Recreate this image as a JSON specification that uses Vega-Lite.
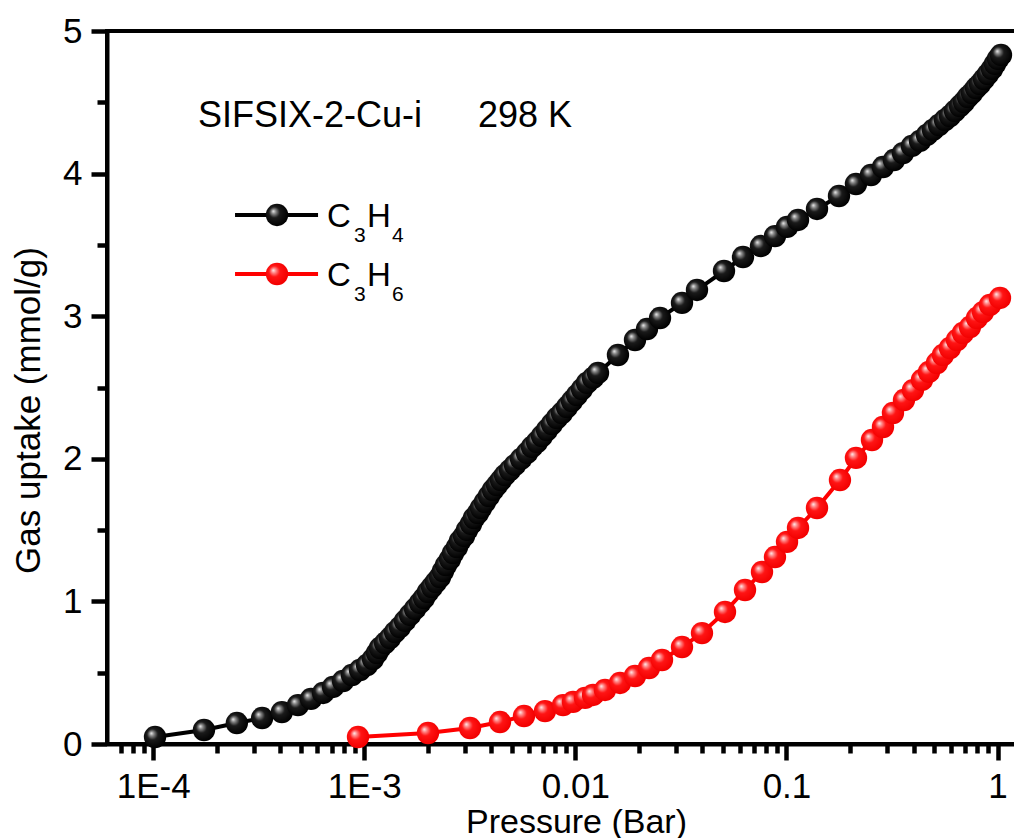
{
  "$schema": "https://vega.github.io/schema/vega-lite/v6.json",
  "width": 910,
  "height": 713,
  "autosize": {"type": "none"},
  "padding": {"left": 107, "top": 31, "right": 0, "bottom": 94},
  "background": "white",
  "config": {
    "view": {"stroke": "black", "strokeWidth": 4},
    "font": "Liberation Sans"
  },
  "datasets": {
    "iso": [
      {"P": 1.02e-4, "uptake": 0.049, "gas": "C₃H₄"},
      {"P": 1.74e-4, "uptake": 0.098, "gas": "C₃H₄"},
      {"P": 2.49e-4, "uptake": 0.147, "gas": "C₃H₄"},
      {"P": 3.28e-4, "uptake": 0.182, "gas": "C₃H₄"},
      {"P": 4.07e-4, "uptake": 0.224, "gas": "C₃H₄"},
      {"P": 4.85e-4, "uptake": 0.273, "gas": "C₃H₄"},
      {"P": 5.59e-4, "uptake": 0.316, "gas": "C₃H₄"},
      {"P": 6.38e-4, "uptake": 0.358, "gas": "C₃H₄"},
      {"P": 7.11e-4, "uptake": 0.400, "gas": "C₃H₄"},
      {"P": 7.93e-4, "uptake": 0.442, "gas": "C₃H₄"},
      {"P": 8.74e-4, "uptake": 0.484, "gas": "C₃H₄"},
      {"P": 9.54e-4, "uptake": 0.519, "gas": "C₃H₄"},
      {"P": 1.030e-3, "uptake": 0.554, "gas": "C₃H₄"},
      {"P": 1.099e-3, "uptake": 0.596, "gas": "C₃H₄"},
      {"P": 1.149e-3, "uptake": 0.638, "gas": "C₃H₄"},
      {"P": 1.187e-3, "uptake": 0.673, "gas": "C₃H₄"},
      {"P": 1.254e-3, "uptake": 0.708, "gas": "C₃H₄"},
      {"P": 1.324e-3, "uptake": 0.743, "gas": "C₃H₄"},
      {"P": 1.398e-3, "uptake": 0.785, "gas": "C₃H₄"},
      {"P": 1.476e-3, "uptake": 0.820, "gas": "C₃H₄"},
      {"P": 1.559e-3, "uptake": 0.863, "gas": "C₃H₄"},
      {"P": 1.646e-3, "uptake": 0.905, "gas": "C₃H₄"},
      {"P": 1.739e-3, "uptake": 0.947, "gas": "C₃H₄"},
      {"P": 1.836e-3, "uptake": 0.989, "gas": "C₃H₄"},
      {"P": 1.918e-3, "uptake": 1.024, "gas": "C₃H₄"},
      {"P": 2.003e-3, "uptake": 1.066, "gas": "C₃H₄"},
      {"P": 2.093e-3, "uptake": 1.101, "gas": "C₃H₄"},
      {"P": 2.186e-3, "uptake": 1.136, "gas": "C₃H₄"},
      {"P": 2.284e-3, "uptake": 1.171, "gas": "C₃H₄"},
      {"P": 2.360e-3, "uptake": 1.213, "gas": "C₃H₄"},
      {"P": 2.438e-3, "uptake": 1.255, "gas": "C₃H₄"},
      {"P": 2.547e-3, "uptake": 1.297, "gas": "C₃H₄"},
      {"P": 2.632e-3, "uptake": 1.339, "gas": "C₃H₄"},
      {"P": 2.749e-3, "uptake": 1.381, "gas": "C₃H₄"},
      {"P": 2.840e-3, "uptake": 1.424, "gas": "C₃H₄"},
      {"P": 2.967e-3, "uptake": 1.459, "gas": "C₃H₄"},
      {"P": 3.066e-3, "uptake": 1.501, "gas": "C₃H₄"},
      {"P": 3.202e-3, "uptake": 1.543, "gas": "C₃H₄"},
      {"P": 3.308e-3, "uptake": 1.585, "gas": "C₃H₄"},
      {"P": 3.456e-3, "uptake": 1.620, "gas": "C₃H₄"},
      {"P": 3.571e-3, "uptake": 1.655, "gas": "C₃H₄"},
      {"P": 3.730e-3, "uptake": 1.697, "gas": "C₃H₄"},
      {"P": 3.896e-3, "uptake": 1.739, "gas": "C₃H₄"},
      {"P": 4.070e-3, "uptake": 1.781, "gas": "C₃H₄"},
      {"P": 4.252e-3, "uptake": 1.816, "gas": "C₃H₄"},
      {"P": 4.441e-3, "uptake": 1.851, "gas": "C₃H₄"},
      {"P": 4.639e-3, "uptake": 1.886, "gas": "C₃H₄"},
      {"P": 4.899e-3, "uptake": 1.921, "gas": "C₃H₄"},
      {"P": 5.174e-3, "uptake": 1.957, "gas": "C₃H₄"},
      {"P": 5.525e-3, "uptake": 1.999, "gas": "C₃H₄"},
      {"P": 5.898e-3, "uptake": 2.041, "gas": "C₃H₄"},
      {"P": 6.229e-3, "uptake": 2.083, "gas": "C₃H₄"},
      {"P": 6.578e-3, "uptake": 2.118, "gas": "C₃H₄"},
      {"P": 6.947e-3, "uptake": 2.160, "gas": "C₃H₄"},
      {"P": 7.337e-3, "uptake": 2.202, "gas": "C₃H₄"},
      {"P": 7.747e-3, "uptake": 2.244, "gas": "C₃H₄"},
      {"P": 8.181e-3, "uptake": 2.286, "gas": "C₃H₄"},
      {"P": 8.640e-3, "uptake": 2.321, "gas": "C₃H₄"},
      {"P": 9.124e-3, "uptake": 2.363, "gas": "C₃H₄"},
      {"P": 9.636e-3, "uptake": 2.405, "gas": "C₃H₄"},
      {"P": 1.0176e-2, "uptake": 2.447, "gas": "C₃H₄"},
      {"P": 1.0747e-2, "uptake": 2.489, "gas": "C₃H₄"},
      {"P": 1.135e-2, "uptake": 2.532, "gas": "C₃H₄"},
      {"P": 1.2115e-2, "uptake": 2.567, "gas": "C₃H₄"},
      {"P": 1.2796e-2, "uptake": 2.602, "gas": "C₃H₄"},
      {"P": 0.01591, "uptake": 2.728, "gas": "C₃H₄"},
      {"P": 0.01916, "uptake": 2.833, "gas": "C₃H₄"},
      {"P": 0.02184, "uptake": 2.910, "gas": "C₃H₄"},
      {"P": 0.02517, "uptake": 2.987, "gas": "C₃H₄"},
      {"P": 0.03199, "uptake": 3.093, "gas": "C₃H₄"},
      {"P": 0.03767, "uptake": 3.184, "gas": "C₃H₄"},
      {"P": 0.05057, "uptake": 3.317, "gas": "C₃H₄"},
      {"P": 0.06222, "uptake": 3.415, "gas": "C₃H₄"},
      {"P": 0.07572, "uptake": 3.492, "gas": "C₃H₄"},
      {"P": 0.0882, "uptake": 3.562, "gas": "C₃H₄"},
      {"P": 0.1006, "uptake": 3.626, "gas": "C₃H₄"},
      {"P": 0.1134, "uptake": 3.675, "gas": "C₃H₄"},
      {"P": 0.1395, "uptake": 3.752, "gas": "C₃H₄"},
      {"P": 0.1773, "uptake": 3.843, "gas": "C₃H₄"},
      {"P": 0.2134, "uptake": 3.927, "gas": "C₃H₄"},
      {"P": 0.2514, "uptake": 3.990, "gas": "C₃H₄"},
      {"P": 0.2865, "uptake": 4.046, "gas": "C₃H₄"},
      {"P": 0.3230, "uptake": 4.095, "gas": "C₃H₄"},
      {"P": 0.3564, "uptake": 4.144, "gas": "C₃H₄"},
      {"P": 0.3931, "uptake": 4.194, "gas": "C₃H₄"},
      {"P": 0.4290, "uptake": 4.229, "gas": "C₃H₄"},
      {"P": 0.4630, "uptake": 4.271, "gas": "C₃H₄"},
      {"P": 0.4943, "uptake": 4.306, "gas": "C₃H₄"},
      {"P": 0.5277, "uptake": 4.341, "gas": "C₃H₄"},
      {"P": 0.5632, "uptake": 4.376, "gas": "C₃H₄"},
      {"P": 0.5951, "uptake": 4.404, "gas": "C₃H₄"},
      {"P": 0.6284, "uptake": 4.439, "gas": "C₃H₄"},
      {"P": 0.6637, "uptake": 4.474, "gas": "C₃H₄"},
      {"P": 0.6932, "uptake": 4.502, "gas": "C₃H₄"},
      {"P": 0.7241, "uptake": 4.537, "gas": "C₃H₄"},
      {"P": 0.7563, "uptake": 4.565, "gas": "C₃H₄"},
      {"P": 0.7900, "uptake": 4.600, "gas": "C₃H₄"},
      {"P": 0.8252, "uptake": 4.628, "gas": "C₃H₄"},
      {"P": 0.8621, "uptake": 4.663, "gas": "C₃H₄"},
      {"P": 0.9006, "uptake": 4.698, "gas": "C₃H₄"},
      {"P": 0.9408, "uptake": 4.734, "gas": "C₃H₄"},
      {"P": 0.9721, "uptake": 4.769, "gas": "C₃H₄"},
      {"P": 1.0044, "uptake": 4.804, "gas": "C₃H₄"},
      {"P": 1.0378, "uptake": 4.832, "gas": "C₃H₄"},
      {"P": 9.337e-4, "uptake": 0.049, "gas": "C₃H₆"},
      {"P": 2.003e-3, "uptake": 0.077, "gas": "C₃H₆"},
      {"P": 3.168e-3, "uptake": 0.112, "gas": "C₃H₆"},
      {"P": 4.393e-3, "uptake": 0.154, "gas": "C₃H₆"},
      {"P": 5.708e-3, "uptake": 0.196, "gas": "C₃H₆"},
      {"P": 7.178e-3, "uptake": 0.231, "gas": "C₃H₆"},
      {"P": 8.736e-3, "uptake": 0.273, "gas": "C₃H₆"},
      {"P": 9.741e-3, "uptake": 0.295, "gas": "C₃H₆"},
      {"P": 0.01111, "uptake": 0.323, "gas": "C₃H₆"},
      {"P": 0.01212, "uptake": 0.344, "gas": "C₃H₆"},
      {"P": 0.01381, "uptake": 0.379, "gas": "C₃H₆"},
      {"P": 0.01627, "uptake": 0.428, "gas": "C₃H₆"},
      {"P": 0.01916, "uptake": 0.477, "gas": "C₃H₆"},
      {"P": 0.02232, "uptake": 0.533, "gas": "C₃H₆"},
      {"P": 0.02572, "uptake": 0.589, "gas": "C₃H₆"},
      {"P": 0.03199, "uptake": 0.680, "gas": "C₃H₆"},
      {"P": 0.03978, "uptake": 0.778, "gas": "C₃H₆"},
      {"P": 0.05113, "uptake": 0.926, "gas": "C₃H₆"},
      {"P": 0.06360, "uptake": 1.080, "gas": "C₃H₆"},
      {"P": 0.07655, "uptake": 1.206, "gas": "C₃H₆"},
      {"P": 0.08820, "uptake": 1.311, "gas": "C₃H₆"},
      {"P": 0.1006, "uptake": 1.417, "gas": "C₃H₆"},
      {"P": 0.1134, "uptake": 1.515, "gas": "C₃H₆"},
      {"P": 0.1395, "uptake": 1.655, "gas": "C₃H₆"},
      {"P": 0.1792, "uptake": 1.851, "gas": "C₃H₆"},
      {"P": 0.2134, "uptake": 2.006, "gas": "C₃H₆"},
      {"P": 0.2541, "uptake": 2.132, "gas": "C₃H₆"},
      {"P": 0.2865, "uptake": 2.223, "gas": "C₃H₆"},
      {"P": 0.3195, "uptake": 2.321, "gas": "C₃H₆"},
      {"P": 0.3603, "uptake": 2.412, "gas": "C₃H₆"},
      {"P": 0.3974, "uptake": 2.482, "gas": "C₃H₆"},
      {"P": 0.4385, "uptake": 2.553, "gas": "C₃H₆"},
      {"P": 0.4733, "uptake": 2.609, "gas": "C₃H₆"},
      {"P": 0.5164, "uptake": 2.672, "gas": "C₃H₆"},
      {"P": 0.5512, "uptake": 2.728, "gas": "C₃H₆"},
      {"P": 0.5951, "uptake": 2.777, "gas": "C₃H₆"},
      {"P": 0.6423, "uptake": 2.833, "gas": "C₃H₆"},
      {"P": 0.6857, "uptake": 2.882, "gas": "C₃H₆"},
      {"P": 0.7400, "uptake": 2.924, "gas": "C₃H₆"},
      {"P": 0.7989, "uptake": 2.987, "gas": "C₃H₆"},
      {"P": 0.8527, "uptake": 3.029, "gas": "C₃H₆"},
      {"P": 0.9204, "uptake": 3.079, "gas": "C₃H₆"},
      {"P": 1.0266, "uptake": 3.128, "gas": "C₃H₆"}
    ]
  },
  "layer": [
    {
      "data": {"name": "iso"},
      "mark": {"type": "line", "strokeWidth": 4, "clip": true},
      "encoding": {
        "x": {
          "field": "P",
          "type": "quantitative",
          "scale": {"type": "log", "domain": [6.04e-5, 1.236], "nice": false},
          "axis": {
            "values": [6e-5, 7e-5, 8e-5, 9e-5, 1e-4, 2e-4, 3e-4, 4e-4, 5e-4, 6e-4, 7e-4, 8e-4, 9e-4, 1e-3, 2e-3, 3e-3, 4e-3, 5e-3, 6e-3, 7e-3, 8e-3, 9e-3, 0.01, 0.02, 0.03, 0.04, 0.05, 0.06, 0.07, 0.08, 0.09, 0.1, 0.2, 0.3, 0.4, 0.5, 0.6, 0.7, 0.8, 0.9, 1],
            "labelExpr": "abs(log(datum.value)/LN10 - round(log(datum.value)/LN10)) < 0.001 ? (datum.value < 0.005 ? replace(format(datum.value, '.0e'), 'e-', 'E-') : format(datum.value, '')) : ''",
            "tickSize": {"condition": {"test": "abs(log(datum.value)/LN10 - round(log(datum.value)/LN10)) < 0.001", "value": 16}, "value": 9},
            "tickWidth": 4.5,
            "tickColor": "black",
            "domainWidth": 4,
            "domainColor": "black",
            "grid": false,
            "labelFont": "Liberation Sans",
            "labelFontSize": 35,
            "labelColor": "black",
            "labelBaseline": "alphabetic",
            "labelPadding": 37,
            "labelOverlap": false,
            "labelFlush": false,
            "labelBound": false,
            "title": "Pressure (Bar)",
            "titleFont": "Liberation Sans",
            "titleFontSize": 34,
            "titleFontWeight": "normal",
            "titleColor": "black",
            "titleX": 469,
            "titleY": 88,
            "titleAlign": "center",
            "titleBaseline": "alphabetic"
          }
        },
        "y": {
          "field": "uptake",
          "type": "quantitative",
          "scale": {"domain": [0, 5], "nice": false},
          "axis": {
            "values": [0, 0.5, 1, 1.5, 2, 2.5, 3, 3.5, 4, 4.5, 5],
            "labelExpr": "datum.value % 1 === 0 ? format(datum.value, 'd') : ''",
            "tickSize": {"condition": {"test": "datum.value % 1 === 0", "value": 16}, "value": 10},
            "tickWidth": 4.5,
            "tickColor": "black",
            "domainWidth": 4,
            "domainColor": "black",
            "grid": false,
            "labelFont": "Liberation Sans",
            "labelFontSize": 35,
            "labelColor": "black",
            "labelPadding": 9,
            "labelOverlap": false,
            "labelFlush": false,
            "labelBound": false,
            "title": "Gas uptake (mmol/g)",
            "titleFont": "Liberation Sans",
            "titleFontSize": 35,
            "titleFontWeight": "normal",
            "titleColor": "black",
            "titleAngle": -90,
            "titleX": -68,
            "titleY": 379,
            "titleAlign": "center",
            "titleBaseline": "alphabetic"
          }
        },
        "color": {
          "field": "gas",
          "type": "nominal",
          "scale": {"domain": ["C₃H₄", "C₃H₆"], "range": ["#000000", "#ff0000"]},
          "legend": null
        }
      }
    },
    {
      "data": {"name": "iso"},
      "transform": [{"filter": "datum.gas === 'C₃H₄'"}],
      "mark": {
        "type": "circle",
        "size": 500,
        "opacity": 1,
        "strokeWidth": 0,
        "fill": {
          "gradient": "radial",
          "x1": 0.33, "y1": 0.33, "r1": 0,
          "x2": 0.45, "y2": 0.45, "r2": 0.55,
          "stops": [
            {"offset": 0, "color": "#f2f2f2"},
            {"offset": 0.18, "color": "#8a8a8a"},
            {"offset": 0.45, "color": "#1a1a1a"},
            {"offset": 1, "color": "#000000"}
          ]
        }
      },
      "encoding": {
        "x": {"field": "P", "type": "quantitative"},
        "y": {"field": "uptake", "type": "quantitative"}
      }
    },
    {
      "data": {"name": "iso"},
      "transform": [{"filter": "datum.gas === 'C₃H₆'"}],
      "mark": {
        "type": "circle",
        "size": 500,
        "opacity": 1,
        "strokeWidth": 0,
        "fill": {
          "gradient": "radial",
          "x1": 0.33, "y1": 0.33, "r1": 0,
          "x2": 0.45, "y2": 0.45, "r2": 0.55,
          "stops": [
            {"offset": 0, "color": "#fff2f2"},
            {"offset": 0.18, "color": "#ff8c8c"},
            {"offset": 0.45, "color": "#ff1414"},
            {"offset": 1, "color": "#f20000"}
          ]
        }
      },
      "encoding": {
        "x": {"field": "P", "type": "quantitative"},
        "y": {"field": "uptake", "type": "quantitative"}
      }
    },
    {
      "data": {"values": [{"note": "SIFSIX-2-Cu-i"}]},
      "mark": {"type": "text", "align": "left", "baseline": "alphabetic", "font": "Liberation Sans", "fontSize": 36, "color": "black"},
      "encoding": {
        "x": {"datum": 1.63e-4, "type": "quantitative"},
        "y": {"datum": 4.327, "type": "quantitative"},
        "text": {"field": "note"}
      }
    },
    {
      "data": {"values": [{"note": "298 K"}]},
      "mark": {"type": "text", "align": "left", "baseline": "alphabetic", "font": "Liberation Sans", "fontSize": 36, "color": "black"},
      "encoding": {
        "x": {"datum": 3.456e-3, "type": "quantitative"},
        "y": {"datum": 4.327, "type": "quantitative"},
        "text": {"field": "note"}
      }
    },
    {
      "data": {"values": [{"gas": "C₃H₄"}]},
      "mark": {"type": "rule", "color": "#000000", "strokeWidth": 4},
      "encoding": {
        "x": {"datum": 2.441e-4, "type": "quantitative"},
        "x2": {"datum": 6.037e-4},
        "y": {"datum": 3.710, "type": "quantitative"}
      }
    },
    {
      "data": {"values": [{"gas": "C₃H₆"}]},
      "mark": {"type": "rule", "color": "#ff0000", "strokeWidth": 4},
      "encoding": {
        "x": {"datum": 2.441e-4, "type": "quantitative"},
        "x2": {"datum": 6.037e-4},
        "y": {"datum": 3.296, "type": "quantitative"}
      }
    },
    {
      "data": {"values": [{"gas": "C₃H₄"}]},
      "mark": {
        "type": "circle",
        "size": 500,
        "opacity": 1,
        "strokeWidth": 0,
        "fill": {
          "gradient": "radial",
          "x1": 0.33, "y1": 0.33, "r1": 0,
          "x2": 0.45, "y2": 0.45, "r2": 0.55,
          "stops": [
            {"offset": 0, "color": "#f2f2f2"},
            {"offset": 0.18, "color": "#8a8a8a"},
            {"offset": 0.45, "color": "#1a1a1a"},
            {"offset": 1, "color": "#000000"}
          ]
        }
      },
      "encoding": {
        "x": {"datum": 3.859e-4, "type": "quantitative"},
        "y": {"datum": 3.710, "type": "quantitative"}
      }
    },
    {
      "data": {"values": [{"gas": "C₃H₆"}]},
      "mark": {
        "type": "circle",
        "size": 500,
        "opacity": 1,
        "strokeWidth": 0,
        "fill": {
          "gradient": "radial",
          "x1": 0.33, "y1": 0.33, "r1": 0,
          "x2": 0.45, "y2": 0.45, "r2": 0.55,
          "stops": [
            {"offset": 0, "color": "#fff2f2"},
            {"offset": 0.18, "color": "#ff8c8c"},
            {"offset": 0.45, "color": "#ff1414"},
            {"offset": 1, "color": "#f20000"}
          ]
        }
      },
      "encoding": {
        "x": {"datum": 3.859e-4, "type": "quantitative"},
        "y": {"datum": 3.296, "type": "quantitative"}
      }
    },
    {
      "data": {"values": [{"t": "C"}]},
      "mark": {"type": "text", "align": "left", "baseline": "alphabetic", "font": "Liberation Sans", "fontSize": 33, "color": "black"},
      "encoding": {
        "x": {"datum": 6.659e-4, "type": "quantitative"},
        "y": {"datum": 3.626, "type": "quantitative"},
        "text": {"field": "t"}
      }
    },
    {
      "data": {"values": [{"t": "3"}]},
      "mark": {"type": "text", "align": "left", "baseline": "alphabetic", "font": "Liberation Sans", "fontSize": 21, "color": "black", "dx": 27, "dy": 15},
      "encoding": {
        "x": {"datum": 6.659e-4, "type": "quantitative"},
        "y": {"datum": 3.626, "type": "quantitative"},
        "text": {"field": "t"}
      }
    },
    {
      "data": {"values": [{"t": "H"}]},
      "mark": {"type": "text", "align": "left", "baseline": "alphabetic", "font": "Liberation Sans", "fontSize": 33, "color": "black", "dx": 40},
      "encoding": {
        "x": {"datum": 6.659e-4, "type": "quantitative"},
        "y": {"datum": 3.626, "type": "quantitative"},
        "text": {"field": "t"}
      }
    },
    {
      "data": {"values": [{"t": "4"}]},
      "mark": {"type": "text", "align": "left", "baseline": "alphabetic", "font": "Liberation Sans", "fontSize": 21, "color": "black", "dx": 65, "dy": 15},
      "encoding": {
        "x": {"datum": 6.659e-4, "type": "quantitative"},
        "y": {"datum": 3.626, "type": "quantitative"},
        "text": {"field": "t"}
      }
    },
    {
      "data": {"values": [{"t": "C"}]},
      "mark": {"type": "text", "align": "left", "baseline": "alphabetic", "font": "Liberation Sans", "fontSize": 33, "color": "black"},
      "encoding": {
        "x": {"datum": 6.659e-4, "type": "quantitative"},
        "y": {"datum": 3.212, "type": "quantitative"},
        "text": {"field": "t"}
      }
    },
    {
      "data": {"values": [{"t": "3"}]},
      "mark": {"type": "text", "align": "left", "baseline": "alphabetic", "font": "Liberation Sans", "fontSize": 21, "color": "black", "dx": 27, "dy": 15},
      "encoding": {
        "x": {"datum": 6.659e-4, "type": "quantitative"},
        "y": {"datum": 3.212, "type": "quantitative"},
        "text": {"field": "t"}
      }
    },
    {
      "data": {"values": [{"t": "H"}]},
      "mark": {"type": "text", "align": "left", "baseline": "alphabetic", "font": "Liberation Sans", "fontSize": 33, "color": "black", "dx": 40},
      "encoding": {
        "x": {"datum": 6.659e-4, "type": "quantitative"},
        "y": {"datum": 3.212, "type": "quantitative"},
        "text": {"field": "t"}
      }
    },
    {
      "data": {"values": [{"t": "6"}]},
      "mark": {"type": "text", "align": "left", "baseline": "alphabetic", "font": "Liberation Sans", "fontSize": 21, "color": "black", "dx": 65, "dy": 15},
      "encoding": {
        "x": {"datum": 6.659e-4, "type": "quantitative"},
        "y": {"datum": 3.212, "type": "quantitative"},
        "text": {"field": "t"}
      }
    }
  ]
}
